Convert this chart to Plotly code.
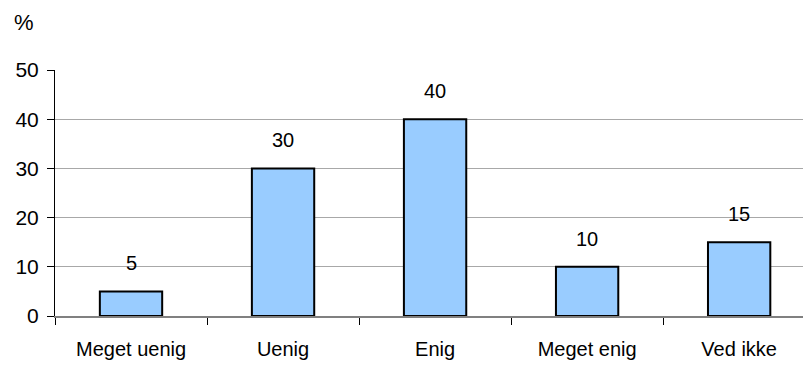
import plotly.graph_objects as go

# Survey answer distribution, percent of respondents
categories = ["Meget uenig", "Uenig", "Enig", "Meget enig", "Ved ikke"]
values = [5, 30, 40, 10, 15]
y_ticks = [0, 10, 20, 30, 40, 50]

FONT = "Liberation Sans, Arial, sans-serif"

fig = go.Figure()
fig.add_trace(go.Bar(
    x=categories,
    y=values,
    width=0.41,
    marker=dict(color="#99ccff", line=dict(color="#000000", width=2)),
    hoverinfo="x+y",
))

# value labels floating above each bar
for c, v in zip(categories, values):
    fig.add_annotation(
        x=c, y=v, text=str(v), showarrow=False,
        yanchor="bottom", yshift=15,
        font=dict(family=FONT, size=20, color="#000000"),
    )

# unit label in the top-left corner
fig.add_annotation(
    xref="paper", yref="paper", x=-0.042, y=1.195, xanchor="center", yanchor="middle",
    text="%", showarrow=False, font=dict(family=FONT, size=22, color="#000000"),
)

fig.update_layout(
    width=803, height=369,
    margin=dict(l=55, r=0, t=70, b=53),
    paper_bgcolor="white", plot_bgcolor="white",
    showlegend=False,
    font=dict(family=FONT, size=20, color="#000000"),
    bargap=0.59,
)
fig.update_xaxes(
    type="category",
    range=[-0.5, 4.42],
    tickson="boundaries",
    ticks="outside", ticklen=7, tickcolor="#000000", tickwidth=1,
    showline=True, linecolor="#808080", linewidth=2,
    showgrid=False,
    tickfont=dict(family=FONT, size=20, color="#000000"),
    ticklabelstandoff=14,
)
fig.update_yaxes(
    range=[0, 50],
    tickvals=y_ticks,
    ticks="outside", ticklen=7, tickcolor="#000000", tickwidth=1,
    showline=True, linecolor="#000000", linewidth=1,
    showgrid=True, gridcolor="#a8a8a8", gridwidth=1,
    zeroline=False,
    tickfont=dict(family=FONT, size=21, color="#000000"),
    ticklabelstandoff=4,
)

fig.write_html("out.html")
